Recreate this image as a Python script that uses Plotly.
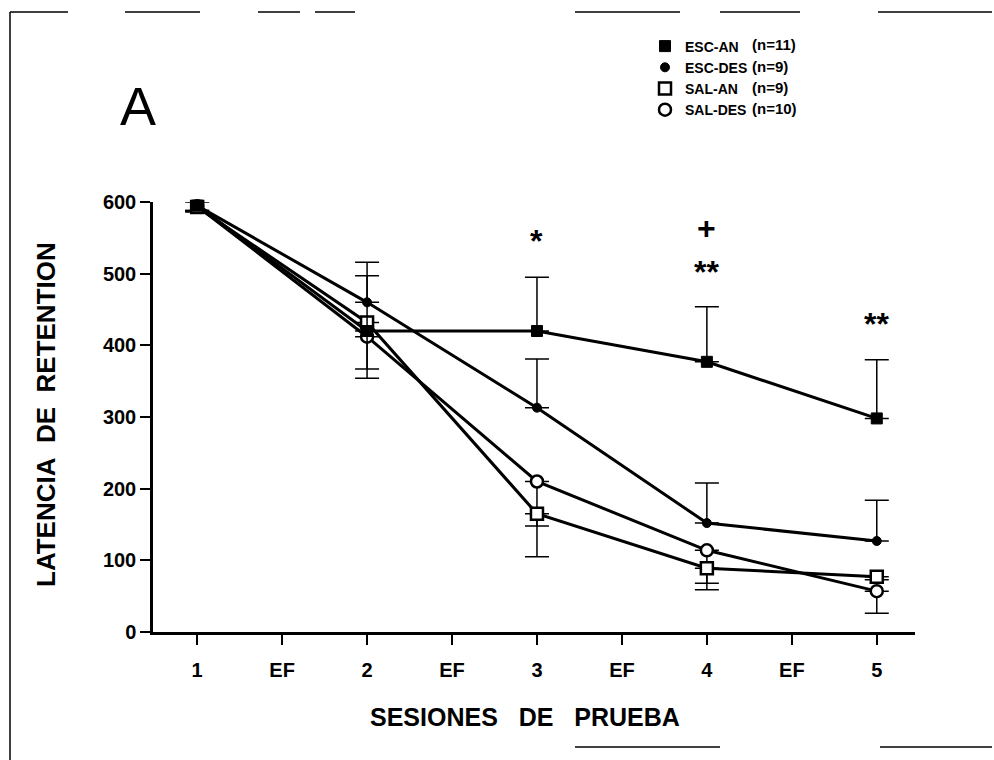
import plotly.graph_objects as go

# ---------------- data ----------------
tick_labels = ["1", "EF", "2", "EF", "3", "EF", "4", "EF", "5"]

group_names = ["ESC-AN", "ESC-DES", "SAL-AN", "SAL-DES"]
group_n = [11, 9, 9, 10]

esc_an = [595, 420, 420, 377, 298]
esc_an_up = [7, 77, 75, 77, 82]
esc_an_down = [7, 0, 0, 0, 0]

esc_des = [595, 460, 313, 152, 127]
esc_des_up = [7, 56, 68, 56, 57]
esc_des_down = [7, 0, 0, 0, 0]

sal_an = [593, 432, 165, 89, 77]
sal_an_up = [7, 0, 0, 0, 0]
sal_an_down = [7, 65, 60, 21, 4]

sal_des = [594, 412, 210, 114, 57]
sal_des_up = [7, 0, 0, 0, 0]
sal_des_down = [7, 58, 62, 55, 31]

# significance marks: (session index, text, offset above ESC-AN error top)
sig_marks = [(2, "*", 50), (3, "**", 48), (3, "+", 110), (4, "**", 50)]

# ---------------- layout helpers ----------------
W, H = 994, 760
ML, MR, MT, MB = 153, 79, 202, 128
PW, PH = W - ML - MR, H - MT - MB


def px(x):
    return (x - ML) / PW


def py(y):
    return (H - MB - y) / PH


FONT = "Liberation Sans, Arial, sans-serif"
session_x = [i for i, t in enumerate(tick_labels) if t != "EF"]

fig = go.Figure()

styles = {
    "ESC-AN": dict(symbol="square", size=11, color="black", line=dict(color="black", width=1)),
    "ESC-DES": dict(symbol="circle", size=9, color="black", line=dict(color="black", width=1)),
    "SAL-AN": dict(symbol="square", size=12, color="white", line=dict(color="black", width=2.5)),
    "SAL-DES": dict(symbol="circle", size=12, color="white", line=dict(color="black", width=2.5)),
}
series = {
    "ESC-AN": (esc_an, esc_an_up, esc_an_down),
    "ESC-DES": (esc_des, esc_des_up, esc_des_down),
    "SAL-AN": (sal_an, sal_an_up, sal_an_down),
    "SAL-DES": (sal_des, sal_des_up, sal_des_down),
}

# drawing order: open symbols first, filled on top
for name in ["SAL-DES", "SAL-AN", "ESC-DES", "ESC-AN"]:
    vals, up, down = series[name]
    fig.add_trace(go.Scatter(
        x=session_x, y=vals, mode="lines+markers", name=name, showlegend=False,
        line=dict(color="black", width=3), marker=styles[name], cliponaxis=False,
        error_y=dict(type="data", symmetric=False, array=up, arrayminus=down,
                     color="black", thickness=1.5, width=12),
    ))

# legend-only entries (markers without lines, as in the original)
for name in group_names:
    fig.add_trace(go.Scatter(x=[None], y=[None], mode="markers", name=name,
                             marker=styles[name], showlegend=True))

annotations = []
for row, n in enumerate(group_n):
    annotations.append(dict(
        text="(n=%d)" % n, xref="paper", yref="paper", x=px(750), y=py(45 + 21.2 * row),
        xanchor="left", yanchor="middle", showarrow=False,
        font=dict(family=FONT, size=15, color="black", weight="bold")))

for idx, txt, off in sig_marks:
    annotations.append(dict(
        text=txt, x=session_x[idx], y=esc_an[idx] + esc_an_up[idx] + off, xref="x", yref="y",
        showarrow=False, xanchor="center", yanchor="middle",
        font=dict(family=FONT, size=32, color="black", weight="bold")))

annotations.append(dict(text="A", xref="paper", yref="paper", x=px(138), y=py(106),
                        showarrow=False, xanchor="center", yanchor="middle",
                        font=dict(family=FONT, size=54, color="black")))
annotations.append(dict(text="LATENCIA&nbsp;&nbsp;DE&nbsp;&nbsp;RETENTION", xref="paper", yref="paper",
                        x=px(46), y=py(415), textangle=-90, showarrow=False,
                        xanchor="center", yanchor="middle",
                        font=dict(family=FONT, size=26, color="black", weight="bold")))
annotations.append(dict(text="SESIONES&nbsp;&nbsp;&nbsp;DE&nbsp;&nbsp;&nbsp;PRUEBA", xref="paper", yref="paper",
                        x=px(525), y=py(717), showarrow=False,
                        xanchor="center", yanchor="middle",
                        font=dict(family=FONT, size=25, color="black", weight="bold")))

# scanned frame lines
shapes = [dict(type="line", xref="paper", yref="paper", x0=px(10), x1=px(10), y0=py(12), y1=py(760),
               line=dict(color="black", width=1.5))]
for a, b in [(10, 68), (125, 200), (258, 300), (315, 355), (575, 680), (720, 800), (878, 992)]:
    shapes.append(dict(type="line", xref="paper", yref="paper", x0=px(a), x1=px(b), y0=py(12), y1=py(12),
                       line=dict(color="black", width=1.5)))
for a, b in [(575, 720), (880, 992)]:
    shapes.append(dict(type="line", xref="paper", yref="paper", x0=px(a), x1=px(b), y0=py(747), y1=py(747),
                       line=dict(color="black", width=1.5)))

tickfont = dict(family=FONT, size=20, color="black", weight="bold")
fig.update_layout(
    width=W, height=H,
    margin=dict(l=ML, r=MR, t=MT, b=MB, autoexpand=False),
    paper_bgcolor="white", plot_bgcolor="white",
    showlegend=True,
    legend=dict(x=px(645), y=py(30.5), xanchor="left", yanchor="top", bgcolor="rgba(0,0,0,0)",
                font=dict(family=FONT, size=14, color="black", weight="bold"),
                itemwidth=30, tracegroupgap=0),
    annotations=annotations,
    shapes=shapes,
    xaxis=dict(range=[-0.52, 8.45], tickmode="array", tickvals=list(range(len(tick_labels))),
               ticktext=tick_labels, showline=True, linecolor="black", linewidth=2.5,
               ticks="outside", ticklen=10, tickwidth=2, tickcolor="black",
               showgrid=False, zeroline=False, ticklabelstandoff=8, tickfont=tickfont),
    yaxis=dict(range=[0, 600], tickvals=[0, 100, 200, 300, 400, 500, 600],
               showline=True, linecolor="black", linewidth=2.5,
               ticks="outside", ticklen=10, tickwidth=2, tickcolor="black",
               showgrid=False, zeroline=False, tickfont=tickfont),
)

fig.write_html("out.html")
